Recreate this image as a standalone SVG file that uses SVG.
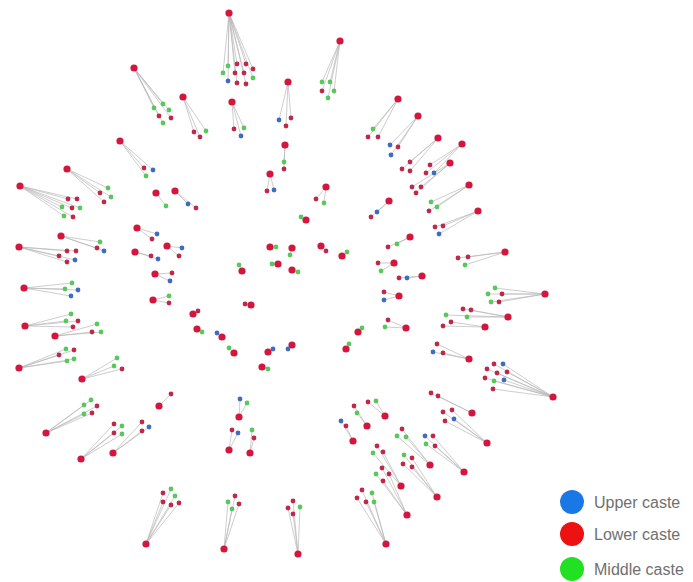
<svg xmlns="http://www.w3.org/2000/svg" width="693" height="582" viewBox="0 0 693 582">
<style>
.e{stroke:#b8b8b8;stroke-width:0.7;fill:none}
.h{fill:#d3163d}
.r{fill:#c0284a}
.g{fill:#58c85c}
.b{fill:#3d6cc2}
.lg{font-family:"Liberation Sans",Arial,sans-serif;font-size:16px;fill:#707070}
</style>
<rect width="693" height="582" fill="#fff"/>
<g id="edges">
<path class="e" d="M229 13L228 66M229 13L237 64M229 13L246 64M229 13L223 73M229 13L235 73M229 13L244 73M229 13L253 69M229 13L228 81M229 13L237 83M229 13L246 84M229 13L253 78"/>
<path class="e" d="M340 41L322 82M340 41L330 82M340 41L322 91M340 41L334 91M340 41L328 98"/>
<path class="e" d="M183 97L194 132M183 97L200 137M183 97L206 131M232 102L234 129M232 102L244 128M232 102L241 136"/>
<path class="e" d="M288 82L279 120M288 82L291 118M288 82L286 126M285 145L284 162M285 145L284 169M270 174L267 191M270 174L274 190M326 187L316 199M326 187L324 203"/>
<path class="e" d="M134 68L154 108M134 68L163 104M134 68L169 110M134 68L159 116M134 68L171 118M134 68L163 123"/>
<path class="e" d="M120 141L144 168M120 141L153 170M120 141L146 176M67 169L108 188M67 169L100 193M67 169L111 197M67 169L104 202"/>
<path class="e" d="M20 186L68 199M20 186L77 199M20 186L62 207M20 186L72 208M20 186L80 208M20 186L64 216M20 186L73 217"/>
<path class="e" d="M156 193L166 206M175 191L188 204M175 191L196 208M61 236L100 242M61 236L97 248M61 236L104 251"/>
<path class="e" d="M19 247L67 251M19 247L76 251M19 247L59 256M19 247L75 260M19 247L67 262M24 288L72 283M24 288L65 289M24 288L78 290M24 288L71 296"/>
<path class="e" d="M25 326L71 314M25 326L66 321M25 326L78 321M25 326L73 327M55 336L97 324M55 336L92 332M55 336L101 332"/>
<path class="e" d="M19 368L66 349M19 368L74 350M19 368L59 355M19 368L74 359M19 368L67 361M82 379L117 358M82 379L114 366M82 379L122 369"/>
<path class="e" d="M137 228L157 234M137 228L152 239M167 246L182 248M167 246L179 256M135 252L151 256M135 252L158 259M155 274L172 273M155 274L170 281M153 300L169 296M153 300L169 303"/>
<path class="e" d="M306 220L301 217M270 247L276 247M292 248L290 255M278 264L272 264M292 270L298 272M321 246L326 251M342 256L347 252M242 271L239 265M251 305L245 304M193 314L198 311M197 329L202 332M222 337L217 333M234 353L229 348M268 352L273 349M292 345L288 349M262 367L268 369M346 349L349 344M358 332L362 328"/>
<path class="e" d="M398 99L373 129M398 99L368 137M398 99L378 137M418 116L390 145M418 116L398 147M418 116L391 155M438 138L410 162M438 138L402 169M438 138L410 171"/>
<path class="e" d="M462 144L430 165M462 144L426 173M462 144L434 173M450 163L412 187M450 163L421 187M450 163L416 193M469 185L431 202M469 185L437 207M469 185L429 211"/>
<path class="e" d="M389 201L377 212M389 201L371 217M478 211L435 227M478 211L443 226M478 211L439 234M410 237L397 244M410 237L388 247"/>
<path class="e" d="M505 252L458 258M505 252L468 257M505 252L465 265M394 263L378 263M394 263L381 271M422 276L399 278M422 276L407 278M399 296L384 292M399 296L384 300"/>
<path class="e" d="M545 294L495 288M545 294L488 294M545 294L502 294M545 294L491 302M545 294L499 302M508 317L463 309M508 317L471 310M508 317L446 315M508 317L467 317M485 327L451 322M485 327L443 326M406 328L388 320M406 328L385 327"/>
<path class="e" d="M469 359L437 344M469 359L433 352M469 359L443 353M553 397L494 364M553 397L503 364M553 397L487 369M553 397L497 373M553 397L507 372M553 397L485 378M553 397L494 381M553 397L504 380M553 397L493 389"/>
<path class="e" d="M385 416L368 402M385 416L376 401M367 426L354 406M367 426L357 413M353 441L341 421M353 441L346 426M472 413L431 393M472 413L438 396M487 443L443 412M487 443L452 410M487 443L445 421M487 443L454 419"/>
<path class="e" d="M430 465L402 429M430 465L397 436M430 465L406 437M464 472L425 436M464 472L433 436M464 472L426 444M464 472L435 446M401 486L377 446M401 486L383 452M401 486L373 453"/>
<path class="e" d="M437 497L404 455M437 497L412 458M437 497L403 464M437 497L412 467M407 515L382 468M407 515L389 474M407 515L376 474M407 515L383 481M386 544L362 490M386 544L372 493M386 544L357 498M386 544L366 502M386 544L374 502"/>
<path class="e" d="M46 433L91 400M46 433L84 405M46 433L97 406M46 433L84 414M46 433L92 413M81 459L114 424M81 459L122 426M81 459L114 433M81 459L122 434M113 453L142 422M113 453L149 427M113 453L142 431M159 406L171 394"/>
<path class="e" d="M146 544L163 493M146 544L171 489M146 544L163 502M146 544L171 505M146 544L175 496M146 544L179 503"/>
<path class="e" d="M239 417L240 399M239 417L247 403M229 450L232 430M229 450L238 433M250 453L252 430M250 453L254 438M224 549L235 496M224 549L228 502M224 549L239 504M224 549L232 509M298 554L293 501M298 554L288 508M298 554L300 507M298 554L293 514"/>
</g>
<g id="n-top">
<circle class="h" cx="229" cy="13" r="3.6"/>
<circle class="g" cx="228" cy="66" r="2.4"/><circle class="r" cx="237" cy="64" r="2.4"/><circle class="r" cx="246" cy="64" r="2.4"/><circle class="g" cx="223" cy="73" r="2.4"/><circle class="r" cx="235" cy="73" r="2.4"/><circle class="r" cx="244" cy="73" r="2.4"/><circle class="r" cx="253" cy="69" r="2.4"/><circle class="b" cx="228" cy="81" r="2.4"/><circle class="r" cx="237" cy="83" r="2.4"/><circle class="r" cx="246" cy="84" r="2.4"/><circle class="g" cx="253" cy="78" r="2.4"/>
</g>
<g id="n-b">
<circle class="h" cx="340" cy="41" r="3.6"/>
<circle class="g" cx="322" cy="82" r="2.4"/><circle class="g" cx="330" cy="82" r="2.4"/><circle class="r" cx="322" cy="91" r="2.4"/><circle class="g" cx="334" cy="91" r="2.4"/><circle class="g" cx="328" cy="98" r="2.4"/>
</g>
<g id="n-c">
<circle class="h" cx="183" cy="97" r="3.6"/><circle class="r" cx="194" cy="132" r="2.4"/><circle class="r" cx="200" cy="137" r="2.4"/><circle class="g" cx="206" cy="131" r="2.4"/>
<circle class="h" cx="232" cy="102" r="3.6"/><circle class="r" cx="234" cy="129" r="2.4"/><circle class="g" cx="244" cy="128" r="2.4"/><circle class="b" cx="241" cy="136" r="2.4"/>
</g>
<g id="n-e">
<circle class="h" cx="288" cy="82" r="3.6"/><circle class="b" cx="279" cy="120" r="2.4"/><circle class="r" cx="291" cy="118" r="2.4"/><circle class="r" cx="286" cy="126" r="2.4"/>
<circle class="h" cx="285" cy="145" r="3.6"/><circle class="g" cx="284" cy="162" r="2.4"/><circle class="r" cx="284" cy="169" r="2.4"/>
<circle class="h" cx="270" cy="174" r="3.6"/><circle class="r" cx="267" cy="191" r="2.4"/><circle class="b" cx="274" cy="190" r="2.4"/>
<circle class="h" cx="326" cy="187" r="3.6"/><circle class="r" cx="316" cy="199" r="2.4"/><circle class="g" cx="324" cy="203" r="2.4"/>
</g>
<g id="n-upleft">
<circle class="h" cx="134" cy="68" r="3.6"/><circle class="g" cx="154" cy="108" r="2.4"/><circle class="g" cx="163" cy="104" r="2.4"/><circle class="g" cx="169" cy="110" r="2.4"/><circle class="r" cx="159" cy="116" r="2.4"/><circle class="r" cx="171" cy="118" r="2.4"/><circle class="g" cx="163" cy="123" r="2.4"/>
<circle class="h" cx="120" cy="141" r="3.6"/><circle class="r" cx="144" cy="168" r="2.4"/><circle class="b" cx="153" cy="170" r="2.4"/><circle class="g" cx="146" cy="176" r="2.4"/>
<circle class="h" cx="67" cy="169" r="3.6"/><circle class="g" cx="108" cy="188" r="2.4"/><circle class="r" cx="100" cy="193" r="2.4"/><circle class="g" cx="111" cy="197" r="2.4"/><circle class="r" cx="104" cy="202" r="2.4"/>
<circle class="h" cx="20" cy="186" r="3.6"/><circle class="r" cx="68" cy="199" r="2.4"/><circle class="r" cx="77" cy="199" r="2.4"/><circle class="g" cx="62" cy="207" r="2.4"/><circle class="r" cx="72" cy="208" r="2.4"/><circle class="g" cx="80" cy="208" r="2.4"/><circle class="g" cx="64" cy="216" r="2.4"/><circle class="r" cx="73" cy="217" r="2.4"/>
<circle class="h" cx="156" cy="193" r="3.6"/><circle class="g" cx="166" cy="206" r="2.4"/>
<circle class="h" cx="175" cy="191" r="3.6"/><circle class="b" cx="188" cy="204" r="2.4"/><circle class="r" cx="196" cy="208" r="2.4"/>
</g>
<g id="n-left">
<circle class="h" cx="61" cy="236" r="3.6"/><circle class="g" cx="100" cy="242" r="2.4"/><circle class="r" cx="97" cy="248" r="2.4"/><circle class="b" cx="104" cy="251" r="2.4"/>
<circle class="h" cx="19" cy="247" r="3.6"/><circle class="r" cx="67" cy="251" r="2.4"/><circle class="r" cx="76" cy="251" r="2.4"/><circle class="r" cx="59" cy="256" r="2.4"/><circle class="b" cx="75" cy="260" r="2.4"/><circle class="r" cx="67" cy="262" r="2.4"/>
<circle class="h" cx="24" cy="288" r="3.6"/><circle class="g" cx="72" cy="283" r="2.4"/><circle class="g" cx="65" cy="289" r="2.4"/><circle class="b" cx="78" cy="290" r="2.4"/><circle class="b" cx="71" cy="296" r="2.4"/>
<circle class="h" cx="25" cy="326" r="3.6"/><circle class="g" cx="71" cy="314" r="2.4"/><circle class="g" cx="66" cy="321" r="2.4"/><circle class="r" cx="78" cy="321" r="2.4"/><circle class="r" cx="73" cy="327" r="2.4"/>
<circle class="h" cx="55" cy="336" r="3.6"/><circle class="g" cx="97" cy="324" r="2.4"/><circle class="r" cx="92" cy="332" r="2.4"/><circle class="g" cx="101" cy="332" r="2.4"/>
<circle class="h" cx="19" cy="368" r="3.6"/><circle class="g" cx="66" cy="349" r="2.4"/><circle class="r" cx="74" cy="350" r="2.4"/><circle class="r" cx="59" cy="355" r="2.4"/><circle class="g" cx="74" cy="359" r="2.4"/><circle class="g" cx="67" cy="361" r="2.4"/>
<circle class="h" cx="82" cy="379" r="3.6"/><circle class="g" cx="117" cy="358" r="2.4"/><circle class="g" cx="114" cy="366" r="2.4"/><circle class="r" cx="122" cy="369" r="2.4"/>
</g>
<g id="n-inner-left">
<circle class="h" cx="137" cy="228" r="3.6"/><circle class="b" cx="157" cy="234" r="2.4"/><circle class="r" cx="152" cy="239" r="2.4"/>
<circle class="h" cx="167" cy="246" r="3.6"/><circle class="b" cx="182" cy="248" r="2.4"/><circle class="r" cx="179" cy="256" r="2.4"/>
<circle class="h" cx="135" cy="252" r="3.6"/><circle class="r" cx="151" cy="256" r="2.4"/><circle class="b" cx="158" cy="259" r="2.4"/>
<circle class="h" cx="155" cy="274" r="3.6"/><circle class="r" cx="172" cy="273" r="2.4"/><circle class="b" cx="170" cy="281" r="2.4"/>
<circle class="h" cx="153" cy="300" r="3.6"/><circle class="g" cx="169" cy="296" r="2.4"/><circle class="r" cx="169" cy="303" r="2.4"/>
</g>
<g id="n-centre">
<circle class="h" cx="306" cy="220" r="3.6"/><circle class="g" cx="301" cy="217" r="2.4"/>
<circle class="h" cx="270" cy="247" r="3.6"/><circle class="g" cx="276" cy="247" r="2.4"/>
<circle class="h" cx="292" cy="248" r="3.6"/><circle class="g" cx="290" cy="255" r="2.4"/>
<circle class="h" cx="278" cy="264" r="3.6"/><circle class="g" cx="272" cy="264" r="2.4"/>
<circle class="h" cx="292" cy="270" r="3.6"/><circle class="g" cx="298" cy="272" r="2.4"/>
<circle class="h" cx="321" cy="246" r="3.6"/><circle class="r" cx="326" cy="251" r="2.4"/>
<circle class="h" cx="342" cy="256" r="3.6"/><circle class="g" cx="347" cy="252" r="2.4"/>
<circle class="h" cx="242" cy="271" r="3.6"/><circle class="g" cx="239" cy="265" r="2.4"/>
<circle class="h" cx="251" cy="305" r="3.6"/><circle class="r" cx="245" cy="304" r="2.4"/>
<circle class="h" cx="193" cy="314" r="3.6"/><circle class="r" cx="198" cy="311" r="2.4"/>
<circle class="h" cx="197" cy="329" r="3.6"/><circle class="g" cx="202" cy="332" r="2.4"/>
<circle class="h" cx="222" cy="337" r="3.6"/><circle class="b" cx="217" cy="333" r="2.4"/>
<circle class="h" cx="234" cy="353" r="3.6"/><circle class="g" cx="229" cy="348" r="2.4"/>
<circle class="h" cx="268" cy="352" r="3.6"/><circle class="b" cx="273" cy="349" r="2.4"/>
<circle class="h" cx="292" cy="345" r="3.6"/><circle class="b" cx="288" cy="349" r="2.4"/>
<circle class="h" cx="262" cy="367" r="3.6"/><circle class="g" cx="268" cy="369" r="2.4"/>
<circle class="h" cx="346" cy="349" r="3.6"/><circle class="g" cx="349" cy="344" r="2.4"/>
<circle class="h" cx="358" cy="332" r="3.6"/><circle class="g" cx="362" cy="328" r="2.4"/>
</g>
<g id="n-upright">
<circle class="h" cx="398" cy="99" r="3.6"/><circle class="g" cx="373" cy="129" r="2.4"/><circle class="r" cx="368" cy="137" r="2.4"/><circle class="r" cx="378" cy="137" r="2.4"/>
<circle class="h" cx="418" cy="116" r="3.6"/><circle class="b" cx="390" cy="145" r="2.4"/><circle class="r" cx="398" cy="147" r="2.4"/><circle class="b" cx="391" cy="155" r="2.4"/>
<circle class="h" cx="438" cy="138" r="3.6"/><circle class="r" cx="410" cy="162" r="2.4"/><circle class="r" cx="402" cy="169" r="2.4"/><circle class="r" cx="410" cy="171" r="2.4"/>
<circle class="h" cx="462" cy="144" r="3.6"/><circle class="r" cx="430" cy="165" r="2.4"/><circle class="r" cx="426" cy="173" r="2.4"/><circle class="b" cx="434" cy="173" r="2.4"/>
<circle class="h" cx="450" cy="163" r="3.6"/><circle class="r" cx="412" cy="187" r="2.4"/><circle class="r" cx="421" cy="187" r="2.4"/><circle class="r" cx="416" cy="193" r="2.4"/>
<circle class="h" cx="469" cy="185" r="3.6"/><circle class="g" cx="431" cy="202" r="2.4"/><circle class="g" cx="437" cy="207" r="2.4"/><circle class="r" cx="429" cy="211" r="2.4"/>
</g>
<g id="n-right">
<circle class="h" cx="389" cy="201" r="3.6"/><circle class="b" cx="377" cy="212" r="2.4"/><circle class="r" cx="371" cy="217" r="2.4"/>
<circle class="h" cx="478" cy="211" r="3.6"/><circle class="r" cx="435" cy="227" r="2.4"/><circle class="r" cx="443" cy="226" r="2.4"/><circle class="b" cx="439" cy="234" r="2.4"/>
<circle class="h" cx="410" cy="237" r="3.6"/><circle class="g" cx="397" cy="244" r="2.4"/><circle class="r" cx="388" cy="247" r="2.4"/>
<circle class="h" cx="505" cy="252" r="3.6"/><circle class="r" cx="458" cy="258" r="2.4"/><circle class="r" cx="468" cy="257" r="2.4"/><circle class="g" cx="465" cy="265" r="2.4"/>
<circle class="h" cx="394" cy="263" r="3.6"/><circle class="r" cx="378" cy="263" r="2.4"/><circle class="g" cx="381" cy="271" r="2.4"/>
<circle class="h" cx="422" cy="276" r="3.6"/><circle class="r" cx="399" cy="278" r="2.4"/><circle class="b" cx="407" cy="278" r="2.4"/>
<circle class="h" cx="399" cy="296" r="3.6"/><circle class="r" cx="384" cy="292" r="2.4"/><circle class="b" cx="384" cy="300" r="2.4"/>
<circle class="h" cx="545" cy="294" r="3.6"/><circle class="g" cx="495" cy="288" r="2.4"/><circle class="g" cx="488" cy="294" r="2.4"/><circle class="r" cx="502" cy="294" r="2.4"/><circle class="g" cx="491" cy="302" r="2.4"/><circle class="r" cx="499" cy="302" r="2.4"/>
<circle class="h" cx="508" cy="317" r="3.6"/><circle class="r" cx="463" cy="309" r="2.4"/><circle class="r" cx="471" cy="310" r="2.4"/><circle class="g" cx="446" cy="315" r="2.4"/><circle class="g" cx="467" cy="317" r="2.4"/>
<circle class="h" cx="485" cy="327" r="3.6"/><circle class="r" cx="451" cy="322" r="2.4"/><circle class="r" cx="443" cy="326" r="2.4"/>
<circle class="h" cx="406" cy="328" r="3.6"/><circle class="r" cx="388" cy="320" r="2.4"/><circle class="g" cx="385" cy="327" r="2.4"/>
<circle class="h" cx="469" cy="359" r="3.6"/><circle class="r" cx="437" cy="344" r="2.4"/><circle class="b" cx="433" cy="352" r="2.4"/><circle class="r" cx="443" cy="353" r="2.4"/>
<circle class="h" cx="553" cy="397" r="3.6"/><circle class="r" cx="494" cy="364" r="2.4"/><circle class="b" cx="503" cy="364" r="2.4"/><circle class="r" cx="487" cy="369" r="2.4"/><circle class="r" cx="497" cy="373" r="2.4"/><circle class="r" cx="507" cy="372" r="2.4"/><circle class="r" cx="485" cy="378" r="2.4"/><circle class="g" cx="494" cy="381" r="2.4"/><circle class="b" cx="504" cy="380" r="2.4"/><circle class="r" cx="493" cy="389" r="2.4"/>
</g>
<g id="n-lowright">
<circle class="h" cx="385" cy="416" r="3.6"/><circle class="r" cx="368" cy="402" r="2.4"/><circle class="g" cx="376" cy="401" r="2.4"/>
<circle class="h" cx="367" cy="426" r="3.6"/><circle class="r" cx="354" cy="406" r="2.4"/><circle class="g" cx="357" cy="413" r="2.4"/>
<circle class="h" cx="353" cy="441" r="3.6"/><circle class="b" cx="341" cy="421" r="2.4"/><circle class="r" cx="346" cy="426" r="2.4"/>
<circle class="h" cx="472" cy="413" r="3.6"/><circle class="r" cx="431" cy="393" r="2.4"/><circle class="r" cx="438" cy="396" r="2.4"/>
<circle class="h" cx="487" cy="443" r="3.6"/><circle class="r" cx="443" cy="412" r="2.4"/><circle class="r" cx="452" cy="410" r="2.4"/><circle class="r" cx="445" cy="421" r="2.4"/><circle class="b" cx="454" cy="419" r="2.4"/>
<circle class="h" cx="430" cy="465" r="3.6"/><circle class="r" cx="402" cy="429" r="2.4"/><circle class="g" cx="397" cy="436" r="2.4"/><circle class="g" cx="406" cy="437" r="2.4"/>
<circle class="h" cx="464" cy="472" r="3.6"/><circle class="b" cx="425" cy="436" r="2.4"/><circle class="r" cx="433" cy="436" r="2.4"/><circle class="g" cx="426" cy="444" r="2.4"/><circle class="r" cx="435" cy="446" r="2.4"/>
<circle class="h" cx="401" cy="486" r="3.6"/><circle class="r" cx="377" cy="446" r="2.4"/><circle class="r" cx="383" cy="452" r="2.4"/><circle class="g" cx="373" cy="453" r="2.4"/>
<circle class="h" cx="437" cy="497" r="3.6"/><circle class="g" cx="404" cy="455" r="2.4"/><circle class="r" cx="412" cy="458" r="2.4"/><circle class="r" cx="403" cy="464" r="2.4"/><circle class="r" cx="412" cy="467" r="2.4"/>
<circle class="h" cx="407" cy="515" r="3.6"/><circle class="r" cx="382" cy="468" r="2.4"/><circle class="r" cx="389" cy="474" r="2.4"/><circle class="g" cx="376" cy="474" r="2.4"/><circle class="r" cx="383" cy="481" r="2.4"/>
<circle class="h" cx="386" cy="544" r="3.6"/><circle class="r" cx="362" cy="490" r="2.4"/><circle class="g" cx="372" cy="493" r="2.4"/><circle class="r" cx="357" cy="498" r="2.4"/><circle class="r" cx="366" cy="502" r="2.4"/><circle class="g" cx="374" cy="502" r="2.4"/>
</g>
<g id="n-lowleft">
<circle class="h" cx="46" cy="433" r="3.6"/><circle class="g" cx="91" cy="400" r="2.4"/><circle class="g" cx="84" cy="405" r="2.4"/><circle class="r" cx="97" cy="406" r="2.4"/><circle class="g" cx="84" cy="414" r="2.4"/><circle class="r" cx="92" cy="413" r="2.4"/>
<circle class="h" cx="81" cy="459" r="3.6"/><circle class="r" cx="114" cy="424" r="2.4"/><circle class="g" cx="122" cy="426" r="2.4"/><circle class="r" cx="114" cy="433" r="2.4"/><circle class="g" cx="122" cy="434" r="2.4"/>
<circle class="h" cx="113" cy="453" r="3.6"/><circle class="r" cx="142" cy="422" r="2.4"/><circle class="b" cx="149" cy="427" r="2.4"/><circle class="r" cx="142" cy="431" r="2.4"/>
<circle class="h" cx="159" cy="406" r="3.6"/><circle class="r" cx="171" cy="394" r="2.4"/>
<circle class="h" cx="146" cy="544" r="3.6"/><circle class="r" cx="163" cy="493" r="2.4"/><circle class="g" cx="171" cy="489" r="2.4"/><circle class="r" cx="163" cy="502" r="2.4"/><circle class="r" cx="171" cy="505" r="2.4"/><circle class="g" cx="175" cy="496" r="2.4"/><circle class="r" cx="179" cy="503" r="2.4"/>
</g>
<g id="n-bottom">
<circle class="h" cx="239" cy="417" r="3.6"/><circle class="b" cx="240" cy="399" r="2.4"/><circle class="g" cx="247" cy="403" r="2.4"/>
<circle class="h" cx="229" cy="450" r="3.6"/><circle class="r" cx="232" cy="430" r="2.4"/><circle class="b" cx="238" cy="433" r="2.4"/>
<circle class="h" cx="250" cy="453" r="3.6"/><circle class="g" cx="252" cy="430" r="2.4"/><circle class="r" cx="254" cy="438" r="2.4"/>
<circle class="h" cx="224" cy="549" r="3.6"/><circle class="r" cx="235" cy="496" r="2.4"/><circle class="g" cx="228" cy="502" r="2.4"/><circle class="r" cx="239" cy="504" r="2.4"/><circle class="g" cx="232" cy="509" r="2.4"/>
<circle class="h" cx="298" cy="554" r="3.6"/><circle class="r" cx="293" cy="501" r="2.4"/><circle class="r" cx="288" cy="508" r="2.4"/><circle class="g" cx="300" cy="507" r="2.4"/><circle class="r" cx="293" cy="514" r="2.4"/>
</g>
<g id="legend">
<circle cx="572" cy="502" r="12" fill="#1a78e6"/>
<text class="lg" x="594" y="508">Upper caste</text>
<circle cx="572" cy="534" r="12" fill="#ee1111"/>
<text class="lg" x="594" y="540">Lower caste</text>
<circle cx="572" cy="569" r="12" fill="#22e022"/>
<text class="lg" x="594" y="575">Middle caste</text>
</g>
</svg>
